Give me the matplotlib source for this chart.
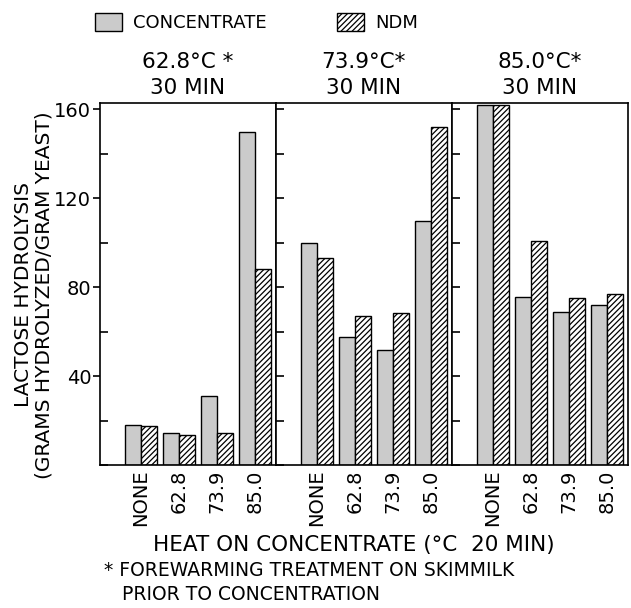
import matplotlib.pyplot as plt
from matplotlib.patches import Patch
from matplotlib.ticker import MultipleLocator, FixedLocator
import numpy as np

# forewarming treatment on skimmilk (panels)
panels = ['62.8°C *\n30 MIN', '73.9°C*\n30 MIN', '85.0°C*\n30 MIN']
# heat on concentrate (groups)
heat = ['NONE', '62.8', '73.9', '85.0']
yticks = [40, 80, 120, 160]

concentrate = [
    [18, 14.5, 31, 150],
    [100, 57.5, 52, 110],
    [162, 75.5, 69, 72],
]
ndm = [
    [17.5, 13.5, 14.5, 88],
    [93, 67, 68.5, 152],
    [162, 101, 75, 77],
]

plt.rcParams['font.family'] = 'DejaVu Sans'
plt.rcParams['hatch.linewidth'] = 0.9

fig = plt.figure(figsize=(6.31, 6.08), dpi=100)
gs = fig.add_gridspec(1, 3, left=0.158, right=0.995, bottom=0.235, top=0.831, wspace=0)

x = np.arange(len(heat))
w = 0.42
conc_color = '#cbcbcb'

for i in range(3):
    ax = fig.add_subplot(gs[0, i])
    ax.bar(x - w / 2, concentrate[i], w, color=conc_color, edgecolor='black', linewidth=1.0)
    ax.bar(x + w / 2, ndm[i], w, color='white', edgecolor='black', hatch='//////', linewidth=1.0)
    ax.set_xlim(-1.08, 3.55)
    ax.set_ylim(0, 163)
    ax.set_xticks(x)
    ax.set_xticklabels(heat, rotation=90, fontsize=14)
    ax.tick_params(axis='x', length=0, pad=3)
    for s in ax.spines.values():
        s.set_linewidth(1.2)
    if i == 0:
        ax.yaxis.set_major_locator(FixedLocator(yticks))
        ax.yaxis.set_minor_locator(MultipleLocator(20))
        ax.tick_params(axis='y', which='major', direction='out', length=5, width=1.2, labelsize=14, pad=1)
        ax.tick_params(axis='y', which='minor', direction='in', length=6, width=1.2)
        ax.set_ylabel('LACTOSE HYDROLYSIS\n(GRAMS HYDROLYZED/GRAM YEAST)', fontsize=14.5, linespacing=1.05)
        ax.yaxis.set_label_coords(-0.265, 0.47)
    else:
        ax.yaxis.set_major_locator(MultipleLocator(20))
        ax.tick_params(axis='y', which='major', direction='in', length=6, width=1.2, labelleft=False)
    ax.set_title(panels[i], fontsize=15.5, linespacing=1.4, pad=6)

handles = [Patch(facecolor=conc_color, edgecolor='black', label='CONCENTRATE'),
           Patch(facecolor='white', edgecolor='black', hatch='//////', label='NDM')]
fig.legend(handles=handles, loc='upper left', bbox_to_anchor=(0.125, 1.005), ncol=2, frameon=False,
           fontsize=13, columnspacing=3.9, handlelength=1.5, handleheight=1.1, handletextpad=0.6)

fig.text(0.56, 0.103, 'HEAT ON CONCENTRATE (°C  20 MIN)', ha='center', va='center', fontsize=15.5)
fig.text(0.165, 0.042, '* FOREWARMING TREATMENT ON SKIMMILK\n   PRIOR TO CONCENTRATION', ha='left',
         va='center', fontsize=13.5, linespacing=1.3)

fig.savefig('out.png', dpi=100)
